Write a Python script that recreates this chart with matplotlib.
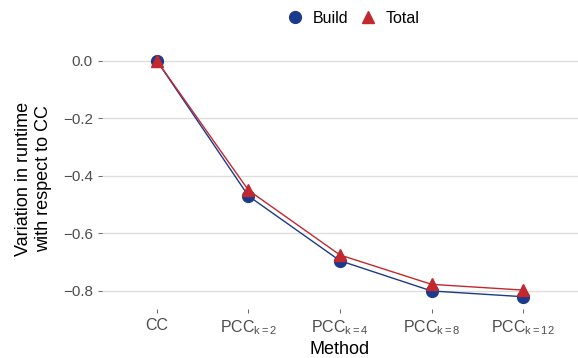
import matplotlib
matplotlib.use("Agg")
import matplotlib.pyplot as plt
from matplotlib.lines import Line2D

plt.rcParams['font.family'] = ['Liberation Sans', 'DejaVu Sans']
plt.rcParams['mathtext.fontset'] = 'custom'
plt.rcParams['mathtext.rm'] = 'Liberation Sans'
plt.rcParams['mathtext.it'] = 'Liberation Sans'

# data
methods = ['CC', 'PCC$_{\\mathrm{k=2}}$', 'PCC$_{\\mathrm{k=4}}$',
           'PCC$_{\\mathrm{k=8}}$', 'PCC$_{\\mathrm{k=12}}$']
build = [0.0, -0.470, -0.695, -0.800, -0.820]
total = [0.0, -0.450, -0.675, -0.777, -0.797]
yticks = [0.0, -0.2, -0.4, -0.6, -0.8]

blue = '#1c3a8c'
red = '#c1292e'

fig = plt.figure(figsize=(5.78, 3.58), dpi=100)
ax = fig.add_axes([102/578, 1 - 308.5/358, 476/578, 259.5/358])

x = list(range(len(methods)))
ax.plot(x, build, color=blue, lw=1.0, marker='o', ms=8.5, zorder=3)
ax.plot(x, total, color=red, lw=1.0, marker='^', ms=8.5, zorder=3)

ax.set_xlim(-0.6, len(methods) - 1 + 0.6)
ax.set_ylim(-0.861, 0.041)
ax.set_xticks(x)
ax.set_xticklabels(methods, fontsize=11.5)
ax.set_yticks(yticks)
ax.set_yticklabels(['0.0', '\u22120.2', '\u22120.4', '\u22120.6', '\u22120.8'], fontsize=11)
ax.tick_params(axis='both', colors='#4d4d4d', length=3, width=0.6,
               labelcolor='#4d4d4d')
ax.tick_params(axis='x', pad=4)
ax.grid(axis='y', color='#dedede', lw=1.0)
ax.set_axisbelow(True)
for s in ax.spines.values():
    s.set_visible(False)

ax.set_xlabel('Method', fontsize=13, labelpad=3)
ax.set_ylabel('Variation in runtime\nwith respect to CC', fontsize=13, labelpad=8)

handles = [Line2D([], [], color=blue, marker='o', ls='none', ms=8.5, label='Build'),
           Line2D([], [], color=red, marker='^', ls='none', ms=8.5, label='Total')]
fig.legend(handles=handles, loc='upper center', bbox_to_anchor=(0.61, 1.01), ncol=2,
           frameon=False, fontsize=11.5, handlelength=1.2, columnspacing=0.6,
           handletextpad=0.5)

fig.savefig('out.png', dpi=100)
